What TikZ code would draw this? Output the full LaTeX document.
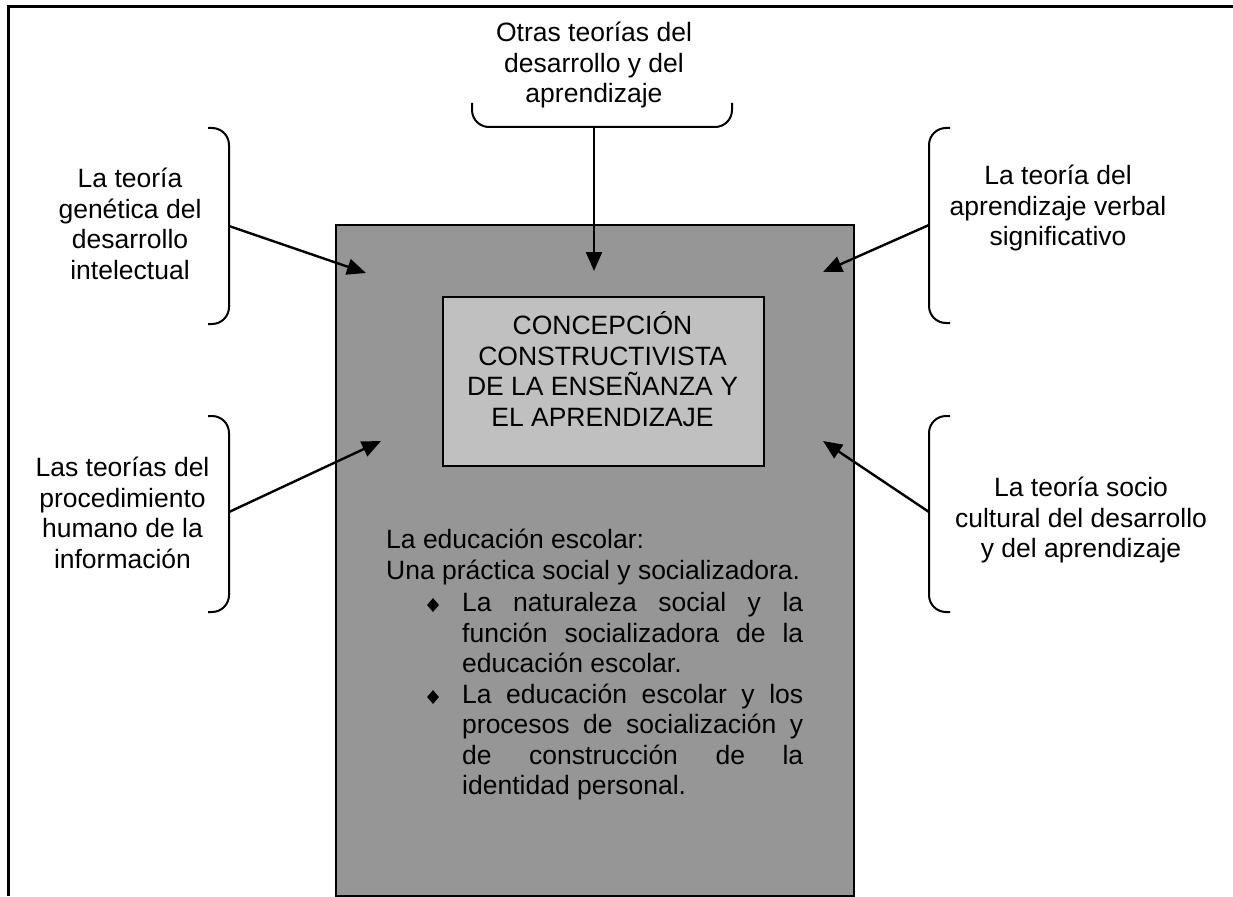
\documentclass[tikz,border=0pt]{standalone}
\usepackage{fontspec}
\setmainfont{Liberation Sans}
\usetikzlibrary{shapes.geometric,arrows.meta}
\definecolor{boxgray}{HTML}{969696}
\definecolor{innergray}{HTML}{C0C0C0}
\begin{document}
\begin{tikzpicture}[x=1pt,y=-1pt,
  txt/.style={font=\fontsize{26.5}{30.5}\selectfont, inner sep=0pt, align=center},
  btxt/.style={font=\fontsize{26.5}{30.5}\selectfont, inner sep=0pt, text width=341pt, align=justify},
  bracketline/.style={line width=2pt, rounded corners=17pt},
  arr/.style={line width=2.4pt, -{Triangle[length=19pt,width=16pt]}},
  frameline/.style={line width=3pt},
  boxline/.style={draw, line width=2pt, inner sep=0pt, anchor=north west},
  bullet/.style={diamond, fill=black, inner sep=0pt, minimum width=12pt, minimum height=14pt},
]
\useasboundingbox (0,0) rectangle (1233,896);
% frame
\draw[frameline] (8,896) -- (8,7) -- (1233,7);
% main boxes
\node[boxline, fill=boxgray, minimum width=518pt, minimum height=671pt] (main) at (335,224) {};
\node[boxline, fill=innergray, minimum width=321pt, minimum height=169pt] (inner) at (442,296) {};
\node[txt] (title) at (602.5,369) {CONCEPCIÓN\\CONSTRUCTIVISTA\\DE LA ENSEÑANZA Y\\EL APRENDIZAJE};
% brackets
\draw[bracketline] (472,103) -- (472,127) -- (732,127) -- (732,103);
\draw[bracketline] (208,128) -- (229,128) -- (229,324) -- (208,324);
\draw[bracketline] (208,416) -- (229,416) -- (229,612) -- (208,612);
\draw[bracketline] (950,128) -- (929,128) -- (929,323) -- (950,323);
\draw[bracketline] (950,416) -- (929,416) -- (929,612) -- (950,612);
% side texts
\node[txt] (top) at (594,65) {Otras teorías del\\desarrollo y del\\aprendizaje};
\node[txt] (lt) at (130,224) {La teoría\\genética del\\desarrollo\\intelectual};
\node[txt] (lb) at (122.5,513) {Las teorías del\\procedimiento\\humano de la\\información};
\node[txt] (rt) at (1058,208) {La teoría del\\aprendizaje verbal\\significativo};
\node[txt] (rb) at (1081,520) {La teoría socio\\cultural del desarrollo\\y del aprendizaje};
% arrow coordinates
\coordinate (ctop) at (594,127);
\coordinate (clt) at (229,226);
\coordinate (clb) at (229,512);
\coordinate (crt) at (929,225);
\coordinate (crb) at (929,512);
\coordinate (ttop) at (594,271);
\coordinate (tlt) at (366,273);
\coordinate (tlb) at (381,441);
\coordinate (trt) at (823,272);
\coordinate (trb) at (823,441);
\draw[arr] (ctop) -- (ttop);
\draw[arr] (clt) -- (tlt);
\draw[arr] (clb) -- (tlb);
\draw[arr] (crt) -- (trt);
\draw[arr] (crb) -- (trb);
% main text
\node[txt, align=left, anchor=west] (head) at (386,557) {La educación escolar:\\Una práctica social y socializadora.};
\node[bullet] (d1) at (433,605) {};
\node[bullet] (d2) at (433,697) {};
\node[btxt, anchor=west] (b1) at (462,633) {\hyphenpenalty=10000 La naturaleza social y la\linebreak función socializadora de la\linebreak educación escolar.};
\node[btxt, anchor=west] (b2) at (462,742) {\hyphenpenalty=10000 La educación escolar y los\linebreak procesos de socialización y\linebreak de construcción de la\linebreak identidad personal.};
\end{tikzpicture}
\end{document}
